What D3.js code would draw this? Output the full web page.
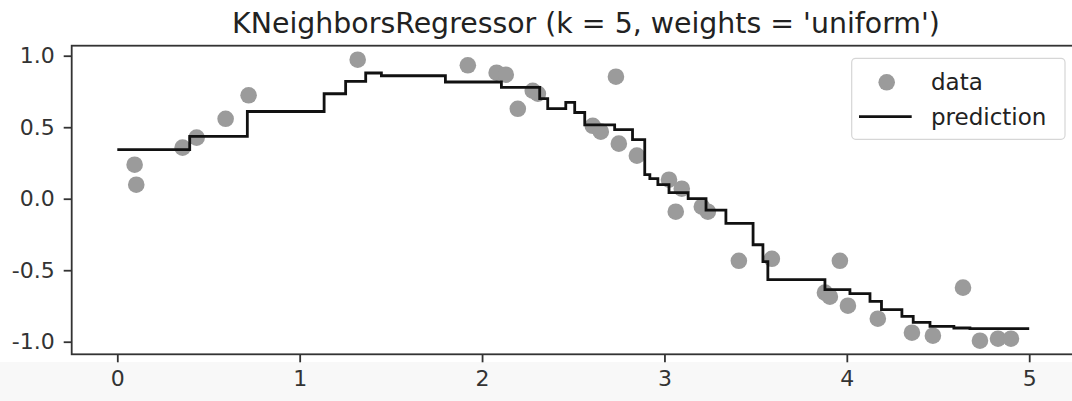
<!DOCTYPE html>
<html>
<head>
<meta charset="utf-8">
<script src="https://cdn.jsdelivr.net/npm/d3@7"></script>
<style>
  body { margin: 0; background: #fff; }
  svg { display: block; font-family: "DejaVu Sans", sans-serif; }
</style>
</head>
<body>
<div id="chart"></div>
<script>
// Data points
const dataX = [0.095, 0.104, 0.358, 0.435, 0.594, 0.72, 1.318, 1.922, 2.08, 2.13, 2.196, 2.278, 2.306,
  2.607, 2.651, 2.734, 2.75, 2.849, 3.025, 3.062, 3.095, 3.205, 3.238, 3.408, 3.589, 3.88, 3.907,
  3.962, 4.006, 4.17, 4.357, 4.472, 4.637, 4.73, 4.829, 4.9];
const dataY = [0.238, 0.098, 0.357, 0.427, 0.559, 0.723, 0.972, 0.933, 0.881, 0.867, 0.629, 0.755, 0.734,
  0.51, 0.469, 0.853, 0.385, 0.301, 0.133, -0.091, 0.07, -0.056, -0.091, -0.434, -0.42, -0.657, -0.685,
  -0.434, -0.748, -0.839, -0.937, -0.958, -0.622, -0.993, -0.979, -0.979];

// Prediction: start of each step and its level
const stepX = [0, 0.397, 0.713, 1.134, 1.252, 1.362, 1.448, 1.799, 2.106, 2.316, 2.36, 2.459, 2.508,
  2.563, 2.727, 2.825, 2.892, 2.92, 2.964, 3.025, 3.13, 3.228, 3.337, 3.486, 3.54, 3.567, 3.88,
  4.017, 4.127, 4.19, 4.302, 4.364, 4.456, 4.587, 4.675, 5];
const stepY = [0.343, 0.436, 0.61, 0.734, 0.82, 0.879, 0.86, 0.816, 0.778, 0.70, 0.63, 0.673, 0.603,
  0.517, 0.483, 0.413, 0.168, 0.14, 0.098, 0.042, 0.0, -0.08, -0.172, -0.322, -0.44, -0.566, -0.636,
  -0.664, -0.718, -0.776, -0.823, -0.865, -0.893, -0.904, -0.909, -0.909];

const xTicks = [0, 1, 2, 3, 4, 5];
const yTicks = [-1.0, -0.5, 0.0, 0.5, 1.0];
const title = "KNeighborsRegressor (k = 5, weights = 'uniform')";

const width = 1072, height = 401;
const svg = d3.select('#chart').append('svg')
  .attr('width', width)
  .attr('height', height);

// light strip at the bottom of the screenshot
svg.append('rect').attr('x', 0).attr('y', 362).attr('width', width).attr('height', height - 362)
  .attr('fill', '#f8f8f8');

const plotLeft = 71.7, plotRight = 1074.8, plotTop = 45.7, plotBottom = 354.3;
const x = d3.scaleLinear().domain([-0.25, 5.25]).range([plotLeft, plotRight]);
const y = d3.scaleLinear().domain([-1.088, 1.07]).range([plotBottom, plotTop]);

// plot area
svg.append('rect').attr('x', plotLeft).attr('y', plotTop)
  .attr('width', plotRight - plotLeft).attr('height', plotBottom - plotTop)
  .attr('fill', '#fff');

// data points
svg.append('g').selectAll('circle')
  .data(dataX.map((d, i) => [d, dataY[i]]))
  .enter().append('circle')
  .attr('cx', d => x(d[0]))
  .attr('cy', d => y(d[1]))
  .attr('r', 8.3)
  .attr('fill', '#9b9b9b');

// prediction line
const line = d3.line()
  .x(d => x(d[0]))
  .y(d => y(d[1]))
  .curve(d3.curveStepAfter);
svg.append('path')
  .datum(stepX.map((d, i) => [d, stepY[i]]))
  .attr('d', line)
  .attr('fill', 'none')
  .attr('stroke', '#111')
  .attr('stroke-width', 2.8);

// axes
const xAxis = svg.append('g').attr('transform', `translate(0,${plotBottom})`)
  .call(d3.axisBottom(x).tickValues(xTicks).tickFormat(d3.format('d')).tickSize(8).tickPadding(8));
const yAxis = svg.append('g').attr('transform', `translate(${plotLeft},0)`)
  .call(d3.axisLeft(y).tickValues(yTicks).tickFormat(d3.format('.1f')).tickSize(8).tickPadding(9));

[xAxis, yAxis].forEach(a => {
  a.select('.domain').remove();
  a.selectAll('line').attr('stroke', '#333').attr('stroke-width', 1.8);
  a.selectAll('text').attr('fill', '#333').style('font-size', '22px')
    .style('font-family', '"DejaVu Sans", sans-serif');
});
yAxis.selectAll('text').text(d => d3.format('.1f')(d).replace('\u2212', '-'));

// frame
svg.append('rect').attr('x', plotLeft).attr('y', plotTop)
  .attr('width', plotRight - plotLeft).attr('height', plotBottom - plotTop)
  .attr('fill', 'none').attr('stroke', '#333').attr('stroke-width', 1.8);

// title
svg.append('text')
  .attr('x', 586).attr('y', 33)
  .attr('text-anchor', 'middle')
  .attr('fill', '#222')
  .style('font-size', '28.4px')
  .text(title);

// legend
const lg = svg.append('g');
lg.append('rect').attr('x', 851.7).attr('y', 58.3).attr('width', 213.3).attr('height', 81)
  .attr('rx', 4).attr('fill', '#fff').attr('fill-opacity', 0.8)
  .attr('stroke', '#d6d6d6').attr('stroke-width', 1.2);
lg.append('circle').attr('cx', 886.7).attr('cy', 82.3).attr('r', 8.3).attr('fill', '#9b9b9b');
lg.append('line').attr('x1', 859).attr('x2', 911.7).attr('y1', 116.7).attr('y2', 116.7)
  .attr('stroke', '#111').attr('stroke-width', 2.8);
lg.append('text').attr('x', 931).attr('y', 90).attr('fill', '#222').style('font-size', '23px').text('data');
lg.append('text').attr('x', 931).attr('y', 124.5).attr('fill', '#222').style('font-size', '23px').text('prediction');
</script>
</body>
</html>
